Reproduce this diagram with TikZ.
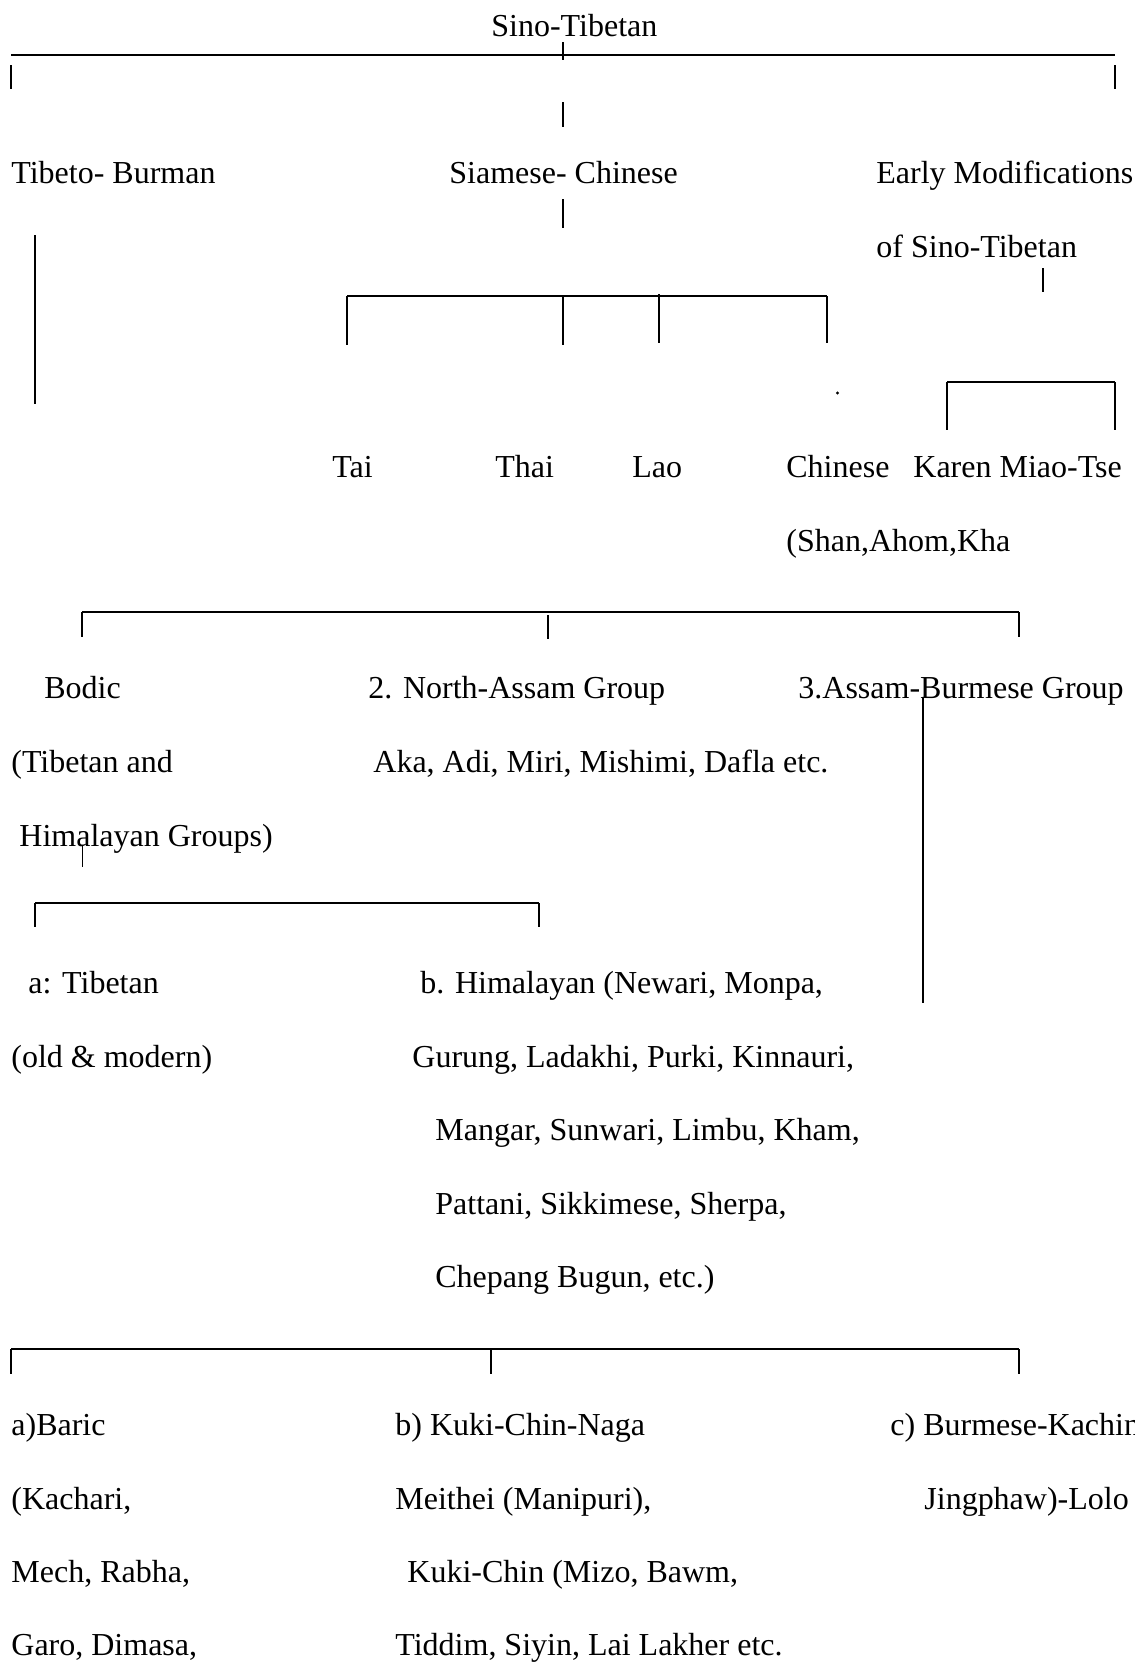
\documentclass[tikz,border=0pt]{standalone}
\usepackage{fontspec}
\setmainfont{Liberation Serif}
\begin{document}
\begin{tikzpicture}[x=0.5pt,y=-0.5pt,
  lbl/.style={anchor=base west,inner sep=0pt,font=\fontsize{16}{19}\selectfont},
  bar/.style={line width=1pt},
  tick/.style={line width=0.7pt}]
\useasboundingbox (0,0) rectangle (1135,1662);
\clip (0,0) rectangle (1135,1662);

% ---- labels ----
\node[lbl] (root)   at (491,36)   {Sino-Tibetan};
\node[lbl] (tb)     at (11,183)   {Tibeto- Burman};
\node[lbl] (sc)     at (449,183)  {Siamese- Chinese};
\node[lbl] (em)     at (876,183)  {Early Modifications};
\node[lbl] (em2)    at (876,257)  {of Sino-Tibetan};
\node[lbl] (tai)    at (332,477)  {Tai};
\node[lbl] (thai)   at (495,477)  {Thai};
\node[lbl] (lao)    at (632,477)  {Lao};
\node[lbl] (chn)    at (786,477)  {Chinese};
\node[lbl] (karen)  at (913,477)  {Karen Miao-Tse};
\node[lbl] (shan)   at (786,551)  {(Shan,Ahom,Kha};
\node[lbl] (bodic)  at (44,698)   {Bodic};
\node[lbl] (na)     at (368,698)  {2. North-Assam Group};
\node[lbl] (ab)     at (798,698)  {3.Assam-Burmese Group};
\node[lbl] (bodicb) at (11,772)   {(Tibetan and};
\node[lbl] (nab)    at (373,772)  {Aka, Adi, Miri, Mishimi, Dafla etc.};
\node[lbl] (bodicc) at (19,846)   {Himalayan Groups)};
\node[lbl] (tib)    at (28,993)   {a: Tibetan};
\node[lbl] (tibb)   at (11,1067)  {(old \& modern)};
\node[lbl] (him)    at (420,993)  {b. Himalayan (Newari, Monpa,};
\node[lbl] (himb)   at (412,1067) {Gurung, Ladakhi, Purki, Kinnauri,};
\node[lbl] (himc)   at (435,1140) {Mangar, Sunwari, Limbu, Kham,};
\node[lbl] (himd)   at (435,1214) {Pattani, Sikkimese, Sherpa,};
\node[lbl] (hime)   at (435,1287) {Chepang Bugun, etc.)};
\node[lbl] (baric)  at (11,1435)  {a)Baric};
\node[lbl] (baricb) at (11,1509)  {(Kachari,};
\node[lbl] (baricc) at (11,1582)  {Mech, Rabha,};
\node[lbl] (baricd) at (11,1655)  {Garo, Dimasa,};
\node[lbl] (kuki)   at (395,1435) {b) Kuki-Chin-Naga};
\node[lbl] (kukib)  at (395,1509) {Meithei (Manipuri),};
\node[lbl] (kukic)  at (407,1582) {Kuki-Chin (Mizo, Bawm,};
\node[lbl] (kukid)  at (395,1655) {Tiddim, Siyin, Lai Lakher etc.};
\node[lbl] (bk)     at (890,1435) {c) Burmese-Kachin};
\node[lbl] (bkb)    at (924,1509) {Jingphaw)-Lolo};

% ---- top level ----
\coordinate (topL) at (11,55);
\coordinate (topR) at (1115,55);
\draw[bar] (topL) -- (topR);
\draw[tick] (563,42) coordinate (rootT) -- (563,60) coordinate (rootB);
\draw[tick] (11,65) coordinate (tbT) -- (11,89) coordinate (tbB);
\draw[tick] (1115,65) coordinate (emT) -- (1115,89) coordinate (emB);
\draw[tick] (563,102) coordinate (scT) -- (563,127) coordinate (scB);

% ---- Siamese-Chinese branch ----
\draw[tick] (563,199) coordinate (scD1) -- (563,228) coordinate (scD2);
\coordinate (taiT) at (347,296);
\coordinate (chnT) at (827,296);
\draw[bar] (taiT) -- (chnT);
\draw[tick] (taiT) -- (347,345) coordinate (taiB);
\draw[tick] (563,296) coordinate (thaiT) -- (563,345) coordinate (thaiB);
\draw[tick] (659,294) coordinate (laoT) -- (659,343) coordinate (laoB);
\draw[tick] (chnT) -- (827,343) coordinate (chnB);
\fill (837.5,393) coordinate (speck) circle[radius=0.8pt];

% ---- Early modifications branch ----
\draw[tick] (1043,268) coordinate (emD1) -- (1043,292) coordinate (emD2);
\coordinate (karT) at (947,382);
\coordinate (miaT) at (1115,382);
\draw[bar] (karT) -- (miaT);
\draw[tick] (karT) -- (947,430) coordinate (karB);
\draw[tick] (miaT) -- (1115,430) coordinate (miaB);

% ---- Tibeto-Burman branch ----
\draw[tick] (35,235) coordinate (tbD1) -- (35,404) coordinate (tbD2);
\coordinate (bodT) at (82,612);
\coordinate (abT) at (1019,612);
\draw[bar] (bodT) -- (abT);
\draw[tick] (bodT) -- (82,637) coordinate (bodB);
\draw[tick] (548,615) coordinate (naT) -- (548,639) coordinate (naB);
\draw[tick] (abT) -- (1019,637) coordinate (abB);

% ---- Bodic subgroups ----
\draw[tick] (82.5,845) coordinate (bodD1) -- (82.5,867) coordinate (bodD2);
\coordinate (tibT) at (35,903);
\coordinate (himT) at (539,903);
\draw[bar] (tibT) -- (himT);
\draw[tick] (tibT) -- (35,927) coordinate (tibB);
\draw[tick] (himT) -- (539,927) coordinate (himB);

% ---- Assam-Burmese subgroups ----
\draw[tick] (923,697) coordinate (abD1) -- (923,1003) coordinate (abD2);
\coordinate (barT) at (11,1349);
\coordinate (bkT) at (1019,1349);
\draw[bar] (barT) -- (bkT);
\draw[tick] (barT) -- (11,1374) coordinate (barB);
\draw[tick] (491,1349) coordinate (kukT) -- (491,1374) coordinate (kukB);
\draw[tick] (bkT) -- (1019,1374) coordinate (bkB);
\end{tikzpicture}
\end{document}
